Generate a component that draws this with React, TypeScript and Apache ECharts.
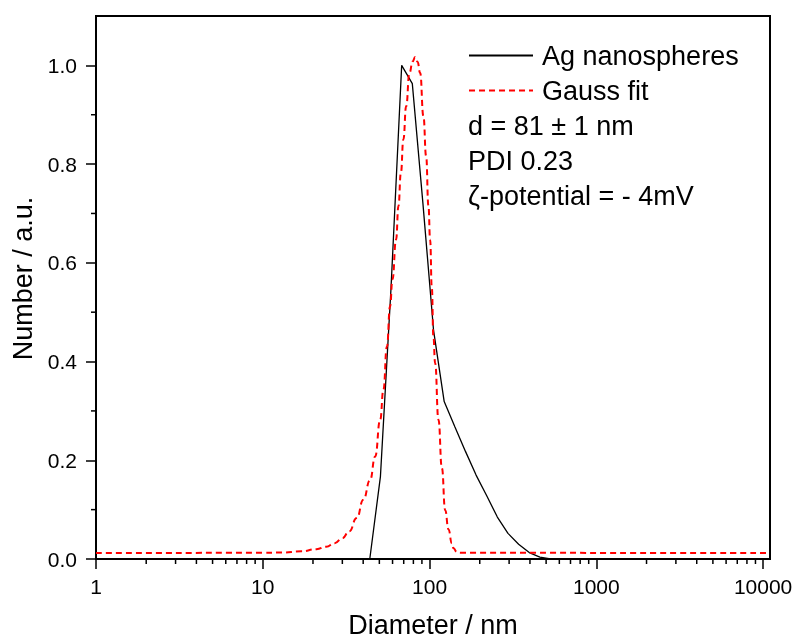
import React, { useEffect, useRef } from "react";
import * as echarts from "echarts";

// Measured size distribution (number-weighted), Ag nanospheres
const agDiameter = [43.82, 50.75, 58.77, 68.06, 78.82, 91.28, 105.7, 122.4, 141.8, 164.2, 190.1, 220.2, 255.0, 295.3, 342.0, 396.1, 458.7, 531.2];
const agNumber = [0, 0.167, 0.55, 1.0, 0.963, 0.72, 0.463, 0.319, 0.268, 0.218, 0.17, 0.128, 0.085, 0.052, 0.03, 0.013, 0.004, 0];

// Gauss fit curve
const fitDiameter = [1, 10, 13, 17, 21, 24, 27, 30, 33, 36.6, 40.1, 44.0, 47.2, 50.6, 52.9, 55.5, 58.0, 59.9, 63.0, 65.1, 67.3, 69.7, 72.4, 75.8, 79.2, 82.0, 84.8, 87.8, 91.9, 95.4, 98.5, 100.8, 103.2, 105.5, 108.0, 113.1, 118.6, 124.1, 129.9, 136.1, 139.1, 145.8, 152.6, 11000];
const fitNumber = [0.012, 0.0125, 0.013, 0.0155, 0.02, 0.025, 0.032, 0.042, 0.056, 0.083, 0.12, 0.16, 0.2075, 0.282, 0.343, 0.43, 0.512, 0.566, 0.647, 0.715, 0.782, 0.85, 0.917, 0.985, 1.008, 1.017, 1.007, 0.985, 0.897, 0.816, 0.715, 0.647, 0.549, 0.45, 0.397, 0.282, 0.184, 0.099, 0.06, 0.032, 0.0217, 0.014, 0.0125, 0.012];

const seriesNames = ["Ag nanospheres", "Gauss fit"];
const annotations = ["d = 81 ± 1 nm", "PDI 0.23", "ζ-potential = - 4mV"];
const xTitle = "Diameter / nm";
const yTitle = "Number / a.u.";

const xMin = 1;
const xMax = 11000;
const xMinor: number[] = [];
for (let e = 0; e < 4; e++) {
  for (let k = 2; k <= 9; k++) xMinor.push(k * Math.pow(10, e));
}
const yMin = 0;
const yMax = 1.1;
const yMajor = [0, 0.2, 0.4, 0.6, 0.8, 1.0];
const yMinor = [0.1, 0.3, 0.5, 0.7, 0.9];

const FONT = "'Liberation Sans', Arial, sans-serif";
const BIG = 27;
const MAJOR_LEN = 10;
const MINOR_LEN = 5;
const lg = (v: number) => Math.log10(v);

export default function App() {
  const ref = useRef<HTMLDivElement>(null);
  useEffect(() => {
    if (!ref.current) return;
    const chart = echarts.init(ref.current, null, { renderer: "svg" });

    const textGraphics: any[] = annotations.map((t, i) => ({
      type: "text",
      left: 468,
      top: 112 + i * 35,
      style: { text: t, fontFamily: FONT, fontSize: BIG, fill: "#000" },
    }));

    chart.setOption({
      animation: false,
      textStyle: { fontFamily: FONT, color: "#000" },
      grid: { left: 96, right: 29, top: 16, bottom: 82, show: true, borderColor: "#000", borderWidth: 2 },
      legend: {
        orient: "vertical",
        left: 463,
        top: 37,
        itemWidth: 64,
        itemHeight: 14,
        itemGap: 8,
        data: seriesNames,
        itemStyle: { opacity: 0 },
        textStyle: { fontFamily: FONT, fontSize: BIG, color: "#000", padding: [0, 0, 0, 4] },
      },
      graphic: textGraphics,
      xAxis: {
        type: "value",
        min: lg(xMin),
        max: lg(xMax),
        interval: 1,
        axisLine: { show: true, onZero: false, lineStyle: { color: "#000", width: 2 } },
        axisTick: { show: true, length: MAJOR_LEN, lineStyle: { color: "#000", width: 1.5 } },
        axisLabel: {
          show: true,
          showMaxLabel: false,
          formatter: (v: number) => (Math.abs(v - Math.round(v)) < 1e-6 ? String(Math.round(Math.pow(10, v))) : ""),
          fontFamily: FONT,
          fontSize: 21,
          color: "#000",
          margin: 17,
        },
        splitLine: { show: false },
      },
      yAxis: {
        type: "value",
        min: yMin,
        max: yMax,
        name: yTitle,
        nameLocation: "middle",
        nameGap: 58,
        nameTextStyle: { fontFamily: FONT, fontSize: BIG, color: "#000", padding: [0, 0, 0, 18] },
        axisLine: { show: true, onZero: false, lineStyle: { color: "#000", width: 2 } },
        axisTick: { show: true, customValues: yMajor, length: MAJOR_LEN, lineStyle: { color: "#000", width: 1.5 } },
        axisLabel: {
          show: true,
          customValues: yMajor,
          formatter: (v: number) => v.toFixed(1),
          fontFamily: FONT,
          fontSize: 21,
          color: "#000",
          margin: 19,
        },
        splitLine: { show: false },
      },
      series: [
        {
          type: "line",
          name: seriesNames[0],
          data: agDiameter.map((d, i) => [lg(d), agNumber[i]]),
          symbol: "none",
          lineStyle: { color: "#000", width: 1.3 },
          itemStyle: { color: "#000" },
        },
        {
          type: "line",
          name: seriesNames[1],
          data: fitDiameter.map((d, i) => [lg(d), fitNumber[i]]),
          symbol: "none",
          smooth: 0.5,
          smoothMonotone: "x",
          lineStyle: { color: "#ff0000", width: 2, type: [6, 4] },
          itemStyle: { color: "#ff0000" },
        },
      ],
    });

    // Minor ticks and x-axis title, positioned through the chart's own axis scales
    const extra: any[] = [];
    xMinor.forEach((v) => {
      const p = chart.convertToPixel({ gridIndex: 0 }, [lg(v), yMin]) as number[];
      extra.push({ type: "line", shape: { x1: p[0], y1: p[1], x2: p[0], y2: p[1] + MINOR_LEN }, style: { stroke: "#000", lineWidth: 1.5 } });
    });
    yMinor.forEach((v) => {
      const p = chart.convertToPixel({ gridIndex: 0 }, [lg(xMin), v]) as number[];
      extra.push({ type: "line", shape: { x1: p[0] - MINOR_LEN, y1: p[1], x2: p[0], y2: p[1] }, style: { stroke: "#000", lineWidth: 1.5 } });
    });
    const mid = chart.convertToPixel({ gridIndex: 0 }, [(lg(xMin) + lg(xMax)) / 2, yMin]) as number[];
    extra.push({
      type: "text",
      x: mid[0],
      y: mid[1] + 52,
      style: { text: xTitle, fontFamily: FONT, fontSize: BIG, fill: "#000", align: "center", verticalAlign: "top" },
    });
    chart.setOption({ graphic: [...textGraphics, ...extra] });

    return () => chart.dispose();
  }, []);
  return <div ref={ref} style={{ position: "fixed", left: 0, top: 0, width: 799, height: 641 }} />;
}
